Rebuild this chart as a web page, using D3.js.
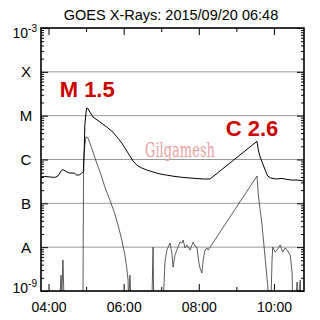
<!DOCTYPE html>
<html>
<head>
<meta charset="utf-8">
<script src="https://cdn.jsdelivr.net/npm/d3@7"></script>
<style>
body { margin: 0; background: #fff; }
svg { display: block; }
text { font-family: "Liberation Sans", Arial, Helvetica, sans-serif; }
</style>
</head>
<body>
<svg id="chart" width="320" height="320"></svg>
<script>
// GOES X-ray flux, 2015/09/20
var day = "2015-09-20";
var start_time = "03:48", end_time = "10:48";

// long channel (1-8 A), W/m2
var long_times = ["03:48","03:54","04:02","04:10","04:15","04:20","04:23","04:28","04:34","04:41",
    "04:45","04:50","04:53","04:56","04:57","04:58","05:00","05:01","05:03","05:06",
    "05:11","05:22","05:33","05:43","05:49","05:57","06:04","06:10","06:16","06:23",
    "06:29","06:37","06:47","06:58","07:09","07:22","07:35","07:46","07:57","08:08",
    "08:18","09:33","09:35","09:38","09:41","09:46","09:50","09:55","10:03","10:13",
    "10:21","10:29","10:37","10:48"];
var long_flux = [4.0e-7,4.1e-7,4.0e-7,3.9e-7,4.2e-7,5.5e-7,5.9e-7,5.3e-7,4.9e-7,4.9e-7,
    4.4e-7,4.5e-7,4.9e-7,5.2e-7,1.65e-6,6.1e-6,1.21e-5,1.5e-5,1.46e-5,1.21e-5,
    9.3e-6,7.2e-6,5.5e-6,4.2e-6,3.3e-6,2.38e-6,1.65e-6,1.2e-6,8.8e-7,7.1e-7,
    6.4e-7,5.75e-7,5.2e-7,4.67e-7,4.4e-7,4.1e-7,3.9e-7,3.78e-7,3.68e-7,3.59e-7,
    3.6e-7,2.6e-6,1.65e-6,1.14e-6,8.8e-7,5.75e-7,4.2e-7,3.78e-7,3.6e-7,3.7e-7,
    3.5e-7,3.4e-7,3.4e-7,3.23e-7];

// short channel (0.5-4 A), W/m2 (values below 1e-9 fall off the plot)
var short_times = ["03:48","04:18","04:20","04:21","04:23","04:25","04:55","04:56","04:58","05:00",
    "05:03","05:06","05:11","05:17","05:24","05:30","05:38","05:45","05:51","05:57",
    "06:02","06:05","06:07","06:08","06:10","06:12","06:45","06:47","06:48","07:03",
    "07:06","07:09","07:14","07:17","07:19","07:22","07:25","07:30","07:33","07:35",
    "07:38","07:41","07:46","07:51","07:54","07:57","08:00","08:02","08:05","08:07",
    "08:10","08:13","08:15","08:18","09:33","09:35","09:38","09:41","09:44","09:47",
    "09:50","09:52","09:55","09:57","09:58","10:02","10:05","10:10","10:14","10:18",
    "10:21","10:26","10:29","10:30","10:35","10:37","10:38","10:42","10:43","10:48"];
var short_flux = [5e-10,5e-10,2.3e-9,5e-10,5.1e-9,5e-10,5e-10,9.7e-7,2.14e-6,3.3e-6,
    3.1e-6,2.38e-6,1.48e-6,8.3e-7,4.4e-7,2.36e-7,1.19e-7,6.3e-8,3.2e-8,1.46e-8,
    6.6e-9,3.3e-9,1.78e-9,5e-10,2.3e-9,5e-10,5e-10,1.0e-8,5e-10,5e-10,
    4.6e-9,8.6e-9,1.24e-8,7.4e-9,3.5e-9,6.6e-9,8.6e-9,1.31e-8,1.24e-8,1.46e-8,
    9.6e-9,1.12e-8,8.6e-9,1.31e-8,1.06e-8,1.0e-8,4.6e-9,3.3e-9,2.57e-9,5.1e-9,
    8.6e-9,9.6e-9,8.6e-9,1.0e-8,4.2e-7,1.55e-7,7.0e-8,3.2e-8,1.12e-8,3.9e-9,
    1.37e-9,5e-10,5e-10,5.1e-9,1.0e-8,7.7e-9,8.6e-9,1.12e-8,7.7e-9,9.6e-9,
    8.6e-9,6.6e-9,2.57e-9,5e-10,5e-10,1.6e-9,5e-10,1.78e-9,5e-10,5e-10];

var class_labels = ["X", "M", "C", "B", "A"];
var class_levels = [1e-4, 1e-5, 1e-6, 1e-7, 1e-8];
var flare_names = ["M 1.5", "C 2.6"];
var flare_times = ["05:01", "09:33"];
var flare_flux = [1.5e-5, 2.6e-6];

var parse = d3.utcParse("%Y-%m-%d %H:%M");
function t(s) { return parse(day + " " + s); }

var p_left = 41, p_right = 304, p_top = 28, p_bottom = 291;
var svg = d3.select("#chart");

var x = d3.scaleUtc().domain([t(start_time), t(end_time)]).range([p_left, p_right]);
var y = d3.scaleLog().domain([1e-9, 1e-3]).range([p_bottom, p_top]);

svg.append("defs").append("clipPath").attr("id", "plot-clip")
    .append("rect").attr("x", p_left).attr("y", p_top)
    .attr("width", p_right - p_left).attr("height", p_bottom - p_top);

// title
svg.append("text")
    .attr("x", 171).attr("y", 20)
    .attr("text-anchor", "middle")
    .style("font-size", "14.5px")
    .text("GOES X-Rays: 2015/09/20 06:48");

// grid lines at the class boundaries
svg.append("g").selectAll("line")
    .data(class_levels)
    .enter().append("line")
    .attr("x1", p_left).attr("x2", p_right)
    .attr("y1", function(d) { return y(d); })
    .attr("y2", function(d) { return y(d); })
    .attr("stroke", "#9a9a9a").attr("stroke-width", 1);

// watermark
svg.append("text")
    .attr("x", 145).attr("y", 157)
    .attr("textLength", 70).attr("lengthAdjust", "spacingAndGlyphs")
    .style("font-family", "'DejaVu Serif', serif")
    .style("font-size", "21px")
    .attr("fill", "#eaa3a3")
    .text("Gilgamesh");

// data lines
var make_points = function(times, flux) {
    return times.map(function(s, i) { return {t: t(s), f: flux[i]}; });
};
var line = d3.line()
    .x(function(d) { return x(d.t); })
    .y(function(d) { return y(d.f); });

var plot = svg.append("g").attr("clip-path", "url(#plot-clip)");
plot.append("path")
    .datum(make_points(short_times, short_flux))
    .attr("d", line)
    .attr("fill", "none").attr("stroke", "#333").attr("stroke-width", 0.8);
plot.append("path")
    .datum(make_points(long_times, long_flux))
    .attr("d", line)
    .attr("fill", "none").attr("stroke", "#000").attr("stroke-width", 1);

// flare labels
svg.append("g").selectAll("text")
    .data(flare_names)
    .enter().append("text")
    .attr("x", function(d, i) { return x(t(flare_times[i])) + (i === 0 ? 0.5 : -5); })
    .attr("y", function(d, i) { return y(flare_flux[i]) - (i === 0 ? 11 : 5); })
    .attr("text-anchor", "middle")
    .style("font-size", "22px")
    .style("font-weight", "bold")
    .attr("fill", "#cc0000")
    .text(function(d) { return d; });

// axes: all ticks point inwards
var log_ticks = [];
for (var e = -9; e < -3; e++) {
    for (var k = 1; k < 10; k++) log_ticks.push(k * Math.pow(10, e));
}
log_ticks.push(1e-3);
function is_decade(d) { return Math.abs(Math.log10(d) - Math.round(Math.log10(d))) < 1e-6; }

var y_left = svg.append("g").attr("transform", "translate(" + p_left + ",0)")
    .call(d3.axisLeft(y).tickValues(log_ticks).tickSize(-3).tickFormat(""));
y_left.selectAll(".tick line").attr("x2", function(d) { return is_decade(d) ? 7 : 3; });

var y_right = svg.append("g").attr("transform", "translate(" + p_right + ",0)")
    .call(d3.axisRight(y).tickValues(log_ticks).tickSize(-3).tickFormat(""));
y_right.selectAll(".tick line").attr("x2", function(d) { return is_decade(d) ? -7 : -3; });

var hour_fmt = d3.utcFormat("%H:%M");
var x_bottom = svg.append("g").attr("transform", "translate(0," + p_bottom + ")")
    .call(d3.axisBottom(x).ticks(d3.utcHour.every(1)).tickSize(-4)
        .tickFormat(function(d) { return d.getUTCHours() % 2 === 0 ? hour_fmt(d) : ""; }));
x_bottom.selectAll(".tick line").attr("y2", function(d) { return d.getUTCHours() % 2 === 0 ? -7 : -4; });
x_bottom.selectAll(".tick text")
    .attr("y", 21).attr("dy", null)
    .style("font-size", "14px")
    .attr("fill", "#000")
    .style("font-family", "'Liberation Sans', Arial, sans-serif");

var x_top = svg.append("g").attr("transform", "translate(0," + p_top + ")")
    .call(d3.axisTop(x).ticks(d3.utcHour.every(1)).tickSize(-4).tickFormat(""));
x_top.selectAll(".tick line").attr("y2", function(d) { return d.getUTCHours() % 2 === 0 ? 7 : 4; });

svg.selectAll(".domain").remove();
svg.selectAll(".tick line").attr("stroke", "#000");

// frame
svg.append("rect")
    .attr("x", p_left).attr("y", p_top)
    .attr("width", p_right - p_left).attr("height", p_bottom - p_top)
    .attr("fill", "none").attr("stroke", "#000").attr("stroke-width", 1.6);

// class letters on the left
svg.append("g").selectAll("text")
    .data(class_labels)
    .enter().append("text")
    .attr("x", 26)
    .attr("y", function(d, i) { return y(class_levels[i]); })
    .attr("dy", "0.36em")
    .attr("text-anchor", "middle")
    .style("font-size", "15px")
    .text(function(d) { return d; });

// 10^-3 and 10^-9 end labels
var end_labels = [{base: 38, exp: "-3"}, {base: 293, exp: "-9"}];
end_labels.forEach(function(lab) {
    var txt = svg.append("text")
        .attr("x", 37).attr("y", lab.base)
        .attr("text-anchor", "end")
        .style("font-size", "14px");
    txt.append("tspan").text("10");
    txt.append("tspan").attr("dy", -6).style("font-size", "10px").text(lab.exp);
});
</script>
</body>
</html>
